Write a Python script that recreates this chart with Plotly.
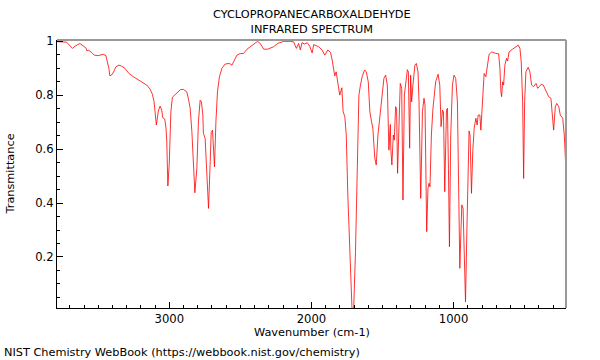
import plotly.graph_objects as go

wavenumber = [
    3793, 3758, 3723, 3681, 3664, 3629, 3606, 3587, 3578, 3571, 3547, 3528, 3500, 3465, 3446, 3437,
    3425, 3418, 3401, 3389, 3375, 3354, 3335, 3312, 3284, 3253, 3206, 3159, 3135, 3119, 3107, 3100,
    3091, 3077, 3065, 3053, 3046, 3032, 3023, 3018, 3010, 3000, 2989, 2978, 2952, 2922, 2901, 2877,
    2865, 2853, 2841, 2830, 2820, 2806, 2795, 2783, 2774, 2764, 2760, 2748, 2736, 2724, 2712, 2705,
    2696, 2689, 2682, 2672, 2661, 2647, 2630, 2607, 2578, 2559, 2543, 2524, 2501, 2478, 2453, 2430,
    2395, 2379, 2360, 2336, 2308, 2266, 2238, 2195, 2148, 2125, 2106, 2090, 2078, 2066, 2049, 2030,
    2012, 1995, 1984, 1949, 1925, 1906, 1885, 1866, 1854, 1843, 1836, 1826, 1815, 1801, 1786, 1777,
    1765, 1755, 1744, 1730, 1720, 1714, 1704, 1702, 1690, 1678, 1672, 1666, 1655, 1643, 1626, 1614,
    1600, 1589, 1577, 1568, 1554, 1544, 1532, 1518, 1501, 1490, 1478, 1466, 1455, 1445, 1441, 1434,
    1424, 1417, 1408, 1401, 1394, 1384, 1375, 1365, 1356, 1346, 1337, 1325, 1318, 1309, 1302, 1295,
    1286, 1272, 1262, 1250, 1243, 1231, 1219, 1208, 1201, 1189, 1180, 1173, 1166, 1156, 1145, 1126,
    1109, 1097, 1088, 1078, 1071, 1062, 1050, 1043, 1036, 1029, 1020, 1008, 997, 985, 973, 966,
    956, 949, 942, 933, 923, 916, 907, 900, 891, 884, 874, 865, 855, 843, 834, 827,
    815, 808, 796, 785, 773, 761, 750, 731, 703, 683, 674, 667, 662, 655, 648, 639,
    627, 620, 609, 585, 561, 545, 533, 524, 514, 507, 500, 491, 475, 463, 451, 437,
    420, 408, 397, 383, 369, 350, 331, 315, 303, 296, 284, 274, 260, 249, 232, 221,
    209,
]

transmittance = [
    0.998, 0.998, 0.996, 0.973, 0.981, 0.991, 0.983, 0.975, 0.963, 0.967, 0.958, 0.948, 0.946, 0.951, 0.946, 0.930,
    0.899, 0.871, 0.877, 0.889, 0.905, 0.911, 0.907, 0.899, 0.880, 0.868, 0.853, 0.837, 0.822, 0.803, 0.775, 0.738,
    0.689, 0.741, 0.759, 0.744, 0.716, 0.711, 0.677, 0.633, 0.463, 0.548, 0.737, 0.792, 0.804, 0.820, 0.821, 0.812,
    0.785, 0.751, 0.664, 0.529, 0.438, 0.529, 0.701, 0.781, 0.775, 0.726, 0.658, 0.640, 0.529, 0.380, 0.553, 0.664,
    0.670, 0.615, 0.534, 0.701, 0.812, 0.868, 0.899, 0.915, 0.917, 0.911, 0.930, 0.948, 0.954, 0.954, 0.970, 0.979,
    0.995, 0.999, 0.991, 0.970, 0.970, 0.979, 0.991, 0.999, 0.999, 0.997, 0.973, 0.991, 0.967, 0.994, 0.989, 0.994,
    0.981, 0.956, 0.987, 0.979, 0.967, 0.948, 0.967, 0.958, 0.930, 0.899, 0.871, 0.886, 0.849, 0.800, 0.827, 0.738,
    0.720, 0.652, 0.430, 0.183, 0.034, 0.000, 0.000, 0.022, 0.220, 0.529, 0.700, 0.800, 0.837, 0.868, 0.893, 0.886,
    0.849, 0.738, 0.701, 0.677, 0.566, 0.541, 0.652, 0.726, 0.812, 0.862, 0.874, 0.837, 0.596, 0.691, 0.596, 0.541,
    0.652, 0.633, 0.757, 0.751, 0.510, 0.738, 0.843, 0.825, 0.411, 0.800, 0.849, 0.894, 0.886, 0.603, 0.874, 0.775,
    0.837, 0.911, 0.917, 0.886, 0.775, 0.417, 0.738, 0.788, 0.763, 0.294, 0.454, 0.473, 0.460, 0.652, 0.751, 0.849,
    0.877, 0.837, 0.683, 0.744, 0.738, 0.442, 0.744, 0.751, 0.529, 0.238, 0.652, 0.837, 0.874, 0.862, 0.775, 0.529,
    0.158, 0.281, 0.393, 0.380, 0.158, 0.034, 0.281, 0.529, 0.667, 0.652, 0.436, 0.590, 0.677, 0.714, 0.689, 0.726,
    0.726, 0.670, 0.800, 0.880, 0.868, 0.911, 0.951, 0.960, 0.954, 0.953, 0.899, 0.812, 0.794, 0.849, 0.837, 0.911,
    0.936, 0.926, 0.960, 0.970, 0.981, 0.985, 0.973, 0.923, 0.775, 0.491, 0.775, 0.886, 0.903, 0.886, 0.837, 0.831,
    0.843, 0.825, 0.831, 0.840, 0.837, 0.812, 0.794, 0.788, 0.726, 0.670, 0.757, 0.769, 0.757, 0.726, 0.714, 0.652,
    0.516,
]

y_tick_values = [0.2, 0.4, 0.6, 0.8, 1.0]
y_tick_labels = ["0.2", "0.4", "0.6", "0.8", "1"]
x_tick_values = [3000, 2000, 1000]
x_tick_labels = ["3000", "2000", "1000"]

title_text = "CYCLOPROPANECARBOXALDEHYDE<br>INFRARED SPECTRUM"
x_title = "Wavenumber (cm-1)"
y_title = "Transmittance"
footer = "NIST Chemistry WebBook (https://webbook.nist.gov/chemistry)"

FONT = "DejaVu Sans"
TXT = 11.3
TICK = 11.6

fig = go.Figure()
fig.add_trace(go.Scatter(
    x=wavenumber, y=transmittance, mode="lines",
    line=dict(color="rgba(255,0,0,0.8)", width=1),
    hoverinfo="skip", showlegend=False,
))

fig.update_layout(
    width=600, height=360,
    margin=dict(l=57, r=34, t=40, b=52),
    paper_bgcolor="white", plot_bgcolor="white",
    font=dict(family=FONT, size=TXT, color="black"),
    showlegend=False,
)

fig.update_xaxes(
    range=[3790, 209], showgrid=False, zeroline=False,
    showline=True, linecolor="black", linewidth=1, mirror=False,
    tickmode="array", tickvals=x_tick_values, ticktext=x_tick_labels,
    ticks="inside", ticklen=6, tickwidth=1, tickcolor="black",
    minor=dict(ticks="inside", dtick=100, tick0=0, ticklen=3, tickcolor="black", showgrid=False),
    tickfont=dict(family=FONT, size=TICK, color="black"),
)
fig.update_yaxes(
    range=[0.011, 1.004], showgrid=False, zeroline=False,
    showline=True, linecolor="black", linewidth=1, mirror=False,
    tickmode="array", tickvals=y_tick_values, ticktext=y_tick_labels,
    ticks="inside", ticklen=6, tickwidth=1, tickcolor="black",
    minor=dict(ticks="inside", dtick=0.05, tick0=0, ticklen=3, tickcolor="black", showgrid=False),
    tickfont=dict(family=FONT, size=TICK, color="black"),
)

# top and right frame lines (gray)
fig.add_shape(type="line", xref="paper", yref="paper", x0=0, x1=1, y0=1, y1=1,
              line=dict(color="#999999", width=2))
fig.add_shape(type="line", xref="paper", yref="paper", x0=1, x1=1, y0=0, y1=1,
              line=dict(color="#999999", width=2))

fig.add_annotation(text=title_text, xref="paper", yref="paper", x=0.5, y=1,
                   xanchor="center", yanchor="bottom", yshift=2, showarrow=False,
                   font=dict(family=FONT, size=TXT, color="black"))
fig.add_annotation(text=x_title, xref="paper", yref="paper", x=0.5, y=0,
                   xanchor="center", yanchor="top", yshift=-16, showarrow=False,
                   font=dict(family=FONT, size=TXT, color="black"))
fig.add_annotation(text=y_title, xref="paper", yref="paper", x=0, y=0.5,
                   xanchor="right", yanchor="middle", xshift=-39, textangle=-90, showarrow=False,
                   font=dict(family=FONT, size=TXT, color="black"))
fig.add_annotation(text=footer, xref="paper", yref="paper", x=0, y=0,
                   xanchor="left", yanchor="middle", xshift=-55, yshift=-44, showarrow=False,
                   font=dict(family=FONT, size=TXT, color="black"))

fig.write_html("out.html", config={"displayModeBar": False},
               post_script="document.body.style.margin='0';document.body.style.padding='0';")
